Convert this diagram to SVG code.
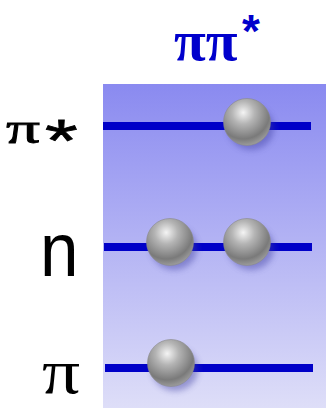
<svg xmlns="http://www.w3.org/2000/svg" width="326" height="408" viewBox="0 0 326 408">
<defs>
<linearGradient id="bg" x1="0" y1="0" x2="0" y2="1">
<stop offset="0" stop-color="#8a8af0"/>
<stop offset="1" stop-color="#dedef8"/>
</linearGradient>
<radialGradient id="ball" cx="0.42" cy="0.3" r="0.7">
<stop offset="0" stop-color="#f4f4f4"/>
<stop offset="0.35" stop-color="#b4b4b4"/>
<stop offset="0.8" stop-color="#7a7a7a"/>
<stop offset="1" stop-color="#9a9a9a"/>
</radialGradient>
<filter id="sh" x="-50%" y="-50%" width="200%" height="200%">
<feGaussianBlur stdDeviation="3"/>
</filter>
<g id="e">
<ellipse cx="4" cy="6" rx="23" ry="22" fill="#4040a0" opacity="0.45" filter="url(#sh)"/>
<circle cx="0" cy="0" r="23.5" fill="url(#ball)" stroke="#8a8a8a" stroke-width="0.6"/>
</g>
</defs>
<style>
.lvl{stroke:#0000c8;stroke-width:8}
.sans{font-family:"Liberation Sans",Arial,sans-serif}
.serif{font-family:"Liberation Serif","Times New Roman",serif}
</style>
<rect x="103" y="84" width="223" height="324" fill="url(#bg)"/>
<g id="title" fill="#0000cc">
<text class="serif" x="174" y="60" font-weight="bold" font-size="58">ππ</text>
<text class="sans" x="242" y="47" font-weight="bold" font-size="46">*</text>
</g>
<g id="conn">
<line class="lvl" x1="103" y1="126" x2="311" y2="126"/>
<line class="lvl" x1="104" y1="247" x2="312" y2="247"/>
<line class="lvl" x1="105" y1="368" x2="313" y2="368"/>
</g>
<g id="pistar">
<text class="serif" transform="translate(6,143) scale(1.5,1)" font-size="45" stroke="#000" stroke-width="0.8">π</text>
<text class="sans" transform="translate(45,161) scale(1.4,1)" font-size="60" stroke="#000" stroke-width="0.8">*</text>
<use href="#e" x="247" y="122"/>
</g>
<g id="n">
<text class="sans" transform="translate(40,276) scale(0.91,1)" font-size="76">n</text>
<use href="#e" x="170" y="242"/>
<use href="#e" x="247" y="242"/>
</g>
<g id="pi">
<text class="serif" transform="translate(42,393) scale(1.18,1)" font-size="64">π</text>
<use href="#e" x="171" y="363"/>
</g>
</svg>
